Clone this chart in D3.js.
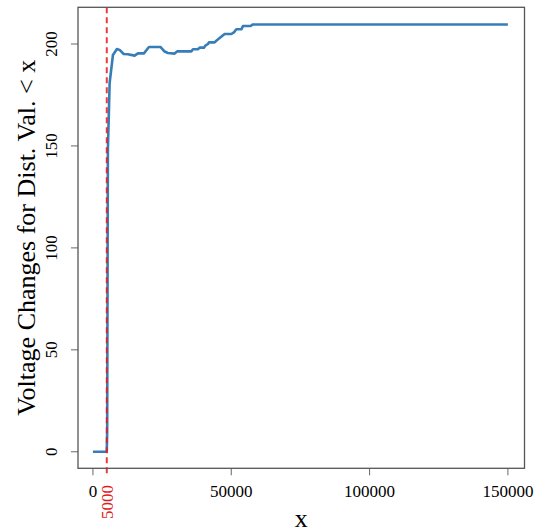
<!DOCTYPE html>
<html>
<head>
<meta charset="utf-8">
<script src="https://cdn.jsdelivr.net/npm/d3@7"></script>
<style>
  body { margin: 0; background: #fff; }
  svg { display: block; }
  text { font-family: "Liberation Serif", "Times New Roman", serif; }
</style>
</head>
<body>
<svg id="chart" width="535" height="527"></svg>
<script>
// values
const xVals = [0, 5000, 5150, 5400, 6040, 7230, 8680, 9650, 11100, 12650, 15070, 16270, 18430,
  20240, 24470, 25920, 27110, 29530, 30510, 35570, 36150, 37950, 38570, 40120, 40630, 41570,
  41930, 43990, 44600, 45800, 47600, 50030, 50960, 51830, 53640, 54220, 57000, 57830, 150000];
const yVals = [0, 0, 10, 148, 181, 194.6, 197.5, 197.1, 195.1, 195, 194.3, 195.4, 195.4,
  198.5, 198.5, 196.3, 195.6, 195.3, 196.4, 196.4, 197.4, 197.4, 198.2, 198.2, 199.2, 200,
  200.8, 200.8, 201.6, 202.9, 204.9, 204.9, 205.7, 207.2, 207.2, 208.8, 208.8, 209.6, 209.6];
const xTicks = [0, 50000, 100000, 150000];
const yTicks = [0, 50, 100, 150, 200];
const cutoff = 5000;

const box = {left: 78, right: 524.5, top: 7.3, bottom: 468.3};

const svg = d3.select("#chart");

const x = d3.scaleLinear()
  .domain([-5400, 156000])
  .range([box.left, box.right]);

const y = d3.scaleLinear()
  .domain([-8.1, 218])
  .range([box.bottom, box.top]);

// x ticks (R style, below the box)
const xg = svg.append("g");
xg.selectAll("line")
  .data(xTicks)
  .enter()
  .append("line")
    .attr("x1", d => x(d)).attr("x2", d => x(d))
    .attr("y1", box.bottom).attr("y2", box.bottom + 7)
    .attr("stroke", "#666")
    .attr("stroke-width", 1);
xg.selectAll("text")
  .data(xTicks)
  .enter()
  .append("text")
    .attr("x", d => x(d))
    .attr("y", 497)
    .attr("text-anchor", "middle")
    .style("font-size", "17px")
    .attr("fill", "#000")
    .text(d => d);

// y ticks, labels rotated
const yg = svg.append("g");
yg.selectAll("line")
  .data(yTicks)
  .enter()
  .append("line")
    .attr("x1", box.left - 7).attr("x2", box.left)
    .attr("y1", d => y(d)).attr("y2", d => y(d))
    .attr("stroke", "#666")
    .attr("stroke-width", 1);
yg.selectAll("text")
  .data(yTicks)
  .enter()
  .append("text")
    .attr("transform", d => "translate(57," + y(d) + ") rotate(-90)")
    .attr("text-anchor", "middle")
    .style("font-size", "17px")
    .attr("fill", "#000")
    .text(d => d);

// the curve
const line = d3.line()
  .x((d, i) => x(xVals[i]))
  .y(d => y(d));

svg.append("path")
  .datum(yVals)
  .attr("d", line)
  .attr("fill", "none")
  .attr("stroke", "#377eb8")
  .attr("stroke-width", 2.6)
  .attr("stroke-linejoin", "round");

// dashed cutoff
svg.append("line")
  .attr("x1", x(cutoff)).attr("x2", x(cutoff))
  .attr("y1", box.top).attr("y2", box.bottom + 7)
  .attr("stroke", "#e41a1c")
  .attr("stroke-opacity", 0.85)
  .attr("stroke-width", 2)
  .attr("stroke-dasharray", "6,4");

svg.append("text")
  .attr("transform", "translate(" + (x(cutoff) + 6) + ",485) rotate(-90)")
  .attr("text-anchor", "end")
  .style("font-size", "17px")
  .attr("fill", "#e41a1c")
  .text(cutoff);

// frame
svg.append("rect")
  .attr("x", box.left).attr("y", box.top)
  .attr("width", box.right - box.left)
  .attr("height", box.bottom - box.top)
  .attr("fill", "none")
  .attr("stroke", "#555")
  .attr("stroke-width", 1.3);

// axis titles
svg.append("text")
  .attr("x", (box.left + box.right) / 2)
  .attr("y", 527)
  .attr("text-anchor", "middle")
  .style("font-size", "26px")
  .text("x");

svg.append("text")
  .attr("transform", "translate(35," + ((box.top + box.bottom) / 2) + ") rotate(-90)")
  .attr("text-anchor", "middle")
  .style("font-size", "26px")
  .text("Voltage Changes for Dist. Val. < x");
</script>
</body>
</html>
